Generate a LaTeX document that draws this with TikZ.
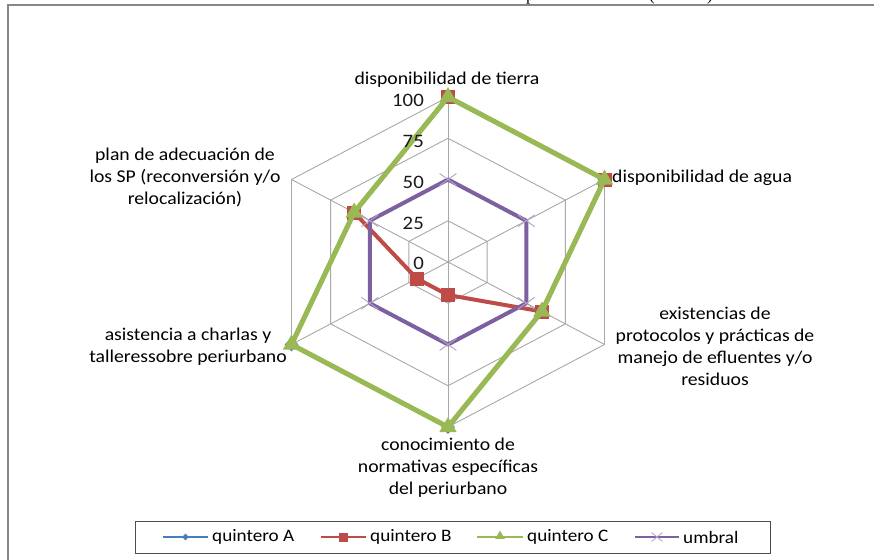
\documentclass[tikz,border=0pt]{standalone}
\usepackage{fontspec}
\setmainfont{Carlito}
\newfontfamily\titlefont{Liberation Serif}
\usetikzlibrary{shapes.geometric,shapes.misc}

\definecolor{serA}{HTML}{4A7EBB}
\definecolor{serB}{HTML}{BE4B48}
\definecolor{serC}{HTML}{98B954}
\definecolor{serU}{HTML}{7D60A0}
\definecolor{serUm}{HTML}{B3A2C7}
\definecolor{gridc}{HTML}{A8A8A8}
\definecolor{frameC}{HTML}{878787}

% horizontally widened, centred label block
\newcommand\wlab[1]{\scalebox{1.095}[1]{\begin{tabular}{@{}c@{}}#1\end{tabular}}}
% six radar points of one series: name, then values clockwise from the top axis
\newcommand\seriespts[7]{%
  \coordinate (#1-1) at (90:#2);
  \coordinate (#1-2) at (30:#3);
  \coordinate (#1-3) at (-30:#4);
  \coordinate (#1-4) at (-90:#5);
  \coordinate (#1-5) at (210:#6);
  \coordinate (#1-6) at (150:#7);}

\begin{document}
\begin{tikzpicture}[x=1pt,y=-1pt,
  gridline/.style={draw=gridc, line width=0.9pt},
  frameline/.style={draw=frameC, line width=2pt},
  catlabel/.style={font=\fontsize{18}{22}\selectfont, inner sep=0pt, text=black},
  ticklabel/.style={font=\fontsize{19}{22}\selectfont, inner sep=0pt, anchor=east, text=black!90},
  legtext/.style={font=\fontsize{17.5}{20}\selectfont, inner sep=0pt, anchor=west, text=black},
  titlefrag/.style={font=\titlefont\fontsize{17}{20}\selectfont, inner sep=0pt, anchor=base west},
  lineA/.style={draw=serA, line width=4pt, line join=round},
  lineB/.style={draw=serB, line width=4pt, line join=round},
  lineC/.style={draw=serC, line width=5pt, line join=miter},
  lineU/.style={draw=serU, line width=4pt, line join=round},
  mA/.style={diamond, fill=serA, inner sep=0pt, minimum size=14pt},
  mB/.style={rectangle, fill=serB, inner sep=0pt, minimum size=14pt},
  mC/.style={regular polygon, regular polygon sides=3, fill=serC, inner sep=0pt, minimum size=20pt},
  mU/.style={cross out, draw=serUm, line width=0.9pt, inner sep=0pt, minimum width=16pt, minimum height=11pt},
  legA/.style={diamond, fill=serA, inner sep=0pt, minimum size=7pt},
  legB/.style={rectangle, fill=serB, inner sep=0pt, minimum size=9pt},
  legC/.style={regular polygon, regular polygon sides=3, fill=serC, inner sep=0pt, minimum size=11pt},
  legU/.style={cross out, draw=serUm, line width=0.8pt, inner sep=0pt, minimum width=10pt, minimum height=8pt},
  legline/.style={line width=2pt}]

\useasboundingbox (0,0) rectangle (874,559);

% descenders of the caption line above the chart
\node[titlefrag] (cap1) at (526,0.5) {p};
\node[titlefrag] (cap2) at (649,0.5) {(};
\node[titlefrag] (cap3) at (707,0.5) {)};

% chart frame (open to the right and bottom)
\coordinate (fbl) at (8,560);
\coordinate (ftl) at (8,5.5);
\coordinate (ftr) at (875,5.5);
\draw[frameline] (fbl) -- (ftl) -- (ftr);

\coordinate (O) at (448,262);

\begin{scope}[shift={(O)}, x=1.807pt, y=1.65pt]
  % hexagonal grid and spokes
  \foreach \r in {25,50,75,100}
    \draw[gridline] (90:\r) -- (30:\r) -- (-30:\r) -- (-90:\r) -- (210:\r) -- (150:\r) -- cycle;
  \foreach \a in {90,30,-30,-90,210,150}
    \draw[gridline] (0,0) -- (\a:100);

  % data
  \seriespts{A}{100}{100}{60}{100}{100}{60}
  \seriespts{B}{100}{100}{60}{20}{20}{60}
  \seriespts{C}{100}{100}{60}{100}{100}{60}
  \seriespts{U}{50}{50}{50}{50}{50}{50}

  \draw[lineA] (A-1) -- (A-2) -- (A-3) -- (A-4) -- (A-5) -- (A-6) -- cycle;
  \foreach \i in {1,...,6} \node[mA] (mA-\i) at (A-\i) {};
  \draw[lineB] (B-1) -- (B-2) -- (B-3) -- (B-4) -- (B-5) -- (B-6) -- cycle;
  \foreach \i in {1,...,6} \node[mB] (mB-\i) at (B-\i) {};
  \draw[lineC] (C-1) -- (C-2) -- (C-3) -- (C-4) -- (C-5) -- (C-6) -- cycle;
  \foreach \i in {1,...,6} \node[mC] (mC-\i) at (C-\i) {};
  \draw[lineU] (U-1) -- (U-2) -- (U-3) -- (U-4) -- (U-5) -- (U-6) -- cycle;
  \foreach \i in {1,...,6} \node[mU] (mU-\i) at (U-\i) {};
\end{scope}

% radial scale
\node[ticklabel] (t100) at (424,100) {\scalebox{1.095}[1]{100}};
\node[ticklabel] (t75)  at (424,141) {\scalebox{1.095}[1]{75}};
\node[ticklabel] (t50)  at (424,182) {\scalebox{1.095}[1]{50}};
\node[ticklabel] (t25)  at (424,223) {\scalebox{1.095}[1]{25}};
\node[ticklabel] (t0)   at (424,263) {\scalebox{1.095}[1]{0}};

% axis categories
\node[catlabel] (cTierra) at (447,80) {\wlab{disponibilidad de tierra}};
\node[catlabel, anchor=west] (cAgua) at (612,178) {\wlab{disponibilidad de agua}};
\node[catlabel] (cExist) at (715,348) {\wlab{existencias de\\protocolos y prácticas de\\manejo de efluentes y/o\\residuos}};
\node[catlabel] (cConoc) at (448,468) {\wlab{conocimiento de\\normativas específicas\\del periurbano}};
\node[catlabel] (cAsist) at (188,347) {\wlab{asistencia a charlas y\\talleressobre periurbano}};
\node[catlabel] (cPlan) at (185,178) {\wlab{plan de adecuación de\\los SP (reconversión y/o\\relocalización)}};

% legend
\node[draw=black!70, line width=0.9pt, minimum width=635pt, minimum height=32pt, inner sep=0pt] (leg) at (452.5,537) {};
\coordinate (lA1) at (163,537); \coordinate (lA2) at (208,537);
\draw[legline, serA] (lA1) -- (lA2);
\node[legA] (kA) at (185.5,537) {};
\node[legtext] (tA) at (212,537) {\scalebox{1.095}[1]{quintero A}};
\coordinate (lB1) at (321,537); \coordinate (lB2) at (366,537);
\draw[legline, serB] (lB1) -- (lB2);
\node[legB] (kB) at (343.5,537) {};
\node[legtext] (tB) at (370,537) {\scalebox{1.095}[1]{quintero B}};
\coordinate (lC1) at (477,537); \coordinate (lC2) at (523,537);
\draw[legline, serC] (lC1) -- (lC2);
\node[legC] (kC) at (500,536) {};
\node[legtext] (tC) at (527,537) {\scalebox{1.095}[1]{quintero C}};
\coordinate (lU1) at (635,537); \coordinate (lU2) at (679,537);
\draw[legline, serU] (lU1) -- (lU2);
\node[legU] (kU) at (657,537) {};
\node[legtext] (tU) at (683,537) {\scalebox{1.095}[1]{umbral}};
\end{tikzpicture}
\end{document}
